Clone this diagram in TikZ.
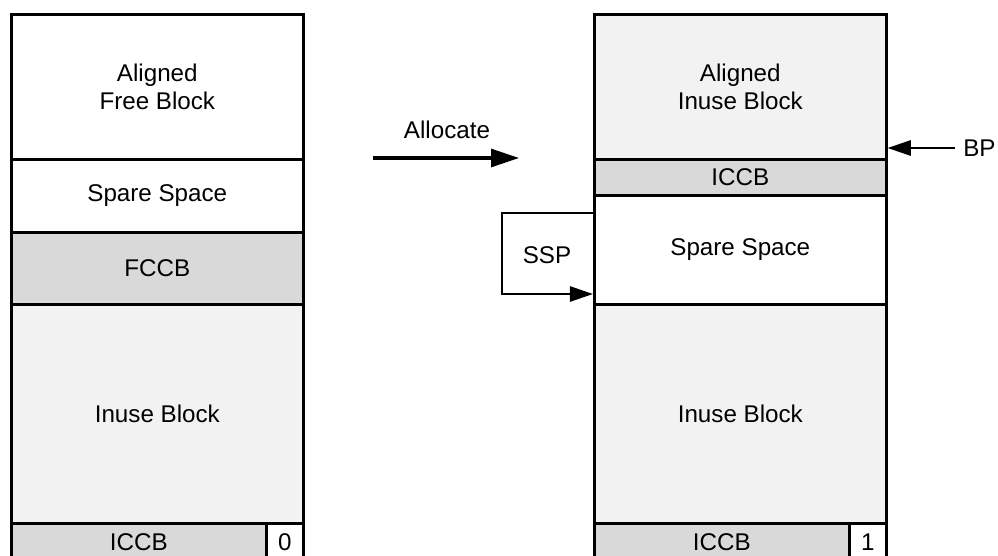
\documentclass[tikz,border=0pt]{standalone}
\usepackage{fontspec}
\setmainfont{Liberation Sans}
\usepackage{xcolor}
\usetikzlibrary{arrows.meta}
\definecolor{inuseGray}{HTML}{F2F2F2}
\definecolor{ccbGray}{HTML}{D9D9D9}

\begin{document}
\begin{tikzpicture}[x=0.025cm,y=-0.025cm,font=\fontsize{17.2}{20}\selectfont,
    block/.style={draw,line width=1.8pt,inner sep=0pt,align=center,anchor=north west,minimum width=7.3cm},
    ptr/.style={line width=1.6pt,-{Triangle[length=5.8mm,width=3.8mm]}}]
    \useasboundingbox (0,0) rectangle (998,555);
    \clip (0,0) rectangle (998,555);

    % before allocation
    \node[block,minimum height=3.625cm](freeBlock) at (10,13) {Aligned\\Free Block};
    \node[block,minimum height=1.825cm](spareLeft) at (10,158) {Spare Space};
    \node[block,minimum height=1.8cm,fill=ccbGray](fccb) at (10,231) {FCCB};
    \node[block,minimum height=5.475cm,fill=inuseGray](inuseLeft) at (10,303) {Inuse Block};
    \node[block,minimum height=0.95cm,minimum width=6.375cm,fill=ccbGray](iccbLeft) at (10,522) {ICCB};
    \node[block,minimum height=0.95cm,minimum width=0.925cm](bitLeft) at (265,522) {0};

    % after allocation
    \node[block,minimum height=3.625cm,fill=inuseGray](alignedInuse) at (593,13) {Aligned\\Inuse Block};
    \node[block,minimum height=0.9cm,fill=ccbGray](iccbTop) at (593,158) {ICCB};
    \node[block,minimum height=2.725cm](spareRight) at (593,194) {Spare Space};
    \node[block,minimum height=5.475cm,fill=inuseGray](inuseRight) at (593,303) {Inuse Block};
    \node[block,minimum height=0.95cm,minimum width=6.375cm,fill=ccbGray](iccbRight) at (593,522) {ICCB};
    \node[block,minimum height=0.95cm,minimum width=0.925cm](bitRight) at (848,522) {1};

    % pointers
    \node(allocLabel) at (447,130) {Allocate};
    \coordinate (allocFrom) at (373,158);
    \coordinate (allocTo) at (519,158);
    \draw [line width=2.2pt,-{Triangle[length=7mm,width=4.5mm]}] (allocFrom) -- (allocTo);

    \node(sspLabel) at (547,255) {SSP};
    \coordinate (sspTop) at (593,213);
    \coordinate (sspEnd) at (593,294);
    \draw [ptr] (sspTop) -| (502,294) -- (sspEnd);

    \node[anchor=west,inner sep=0pt](bpLabel) at (963,148) {BP};
    \draw [ptr,shorten <=0.2cm] (bpLabel.west) -- (alignedInuse.east |- bpLabel.west);
\end{tikzpicture}
\end{document}
